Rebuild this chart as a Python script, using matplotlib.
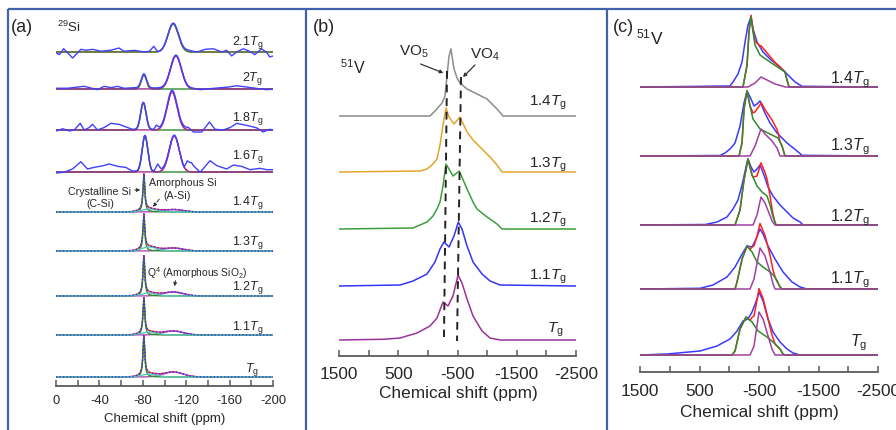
import numpy as np
import matplotlib
matplotlib.use("Agg")
import matplotlib.pyplot as plt
from matplotlib.transforms import Affine2D

plt.rcParams['font.family'] = ['Liberation Sans', 'DejaVu Sans']
plt.rcParams['mathtext.fontset'] = 'custom'
plt.rcParams['mathtext.rm'] = 'Liberation Sans'
plt.rcParams['mathtext.it'] = 'Liberation Sans:italic'
plt.rcParams['mathtext.bf'] = 'Liberation Sans:bold'
plt.rcParams['axes.unicode_minus'] = False

# ---------------- (a) 29Si spectra ----------------
si_labels = ['2.1', '2', '1.8', '1.6', '1.4', '1.3', '1.2', '1.1', '']

# upper four traces: C-Si (green) + A-Si (purple) gaussian fits, ppm / ppm / px
si_up_c1 = [-108, -81, -80.5, -82]
si_up_w1 = [4.8, 2.4, 2.5, 2.6]
si_up_h1 = [28, 14, 27, 36]
si_up_c2 = [-110, -110.5, -107, -109]
si_up_w2 = [4.5, 5.0, 4.6, 4.6]
si_up_h2 = [0, 33, 38, 36]

# baseline wiggles of the measured (blue) traces
wig_ppm_21 = [0, -3.1, -7.0, -10.7, -15.3, -19.2, -22.9, -27.5, -33.6, -41.2, -50.4, -58.0,
              -62.6, -71.8, -80.9, -86.1, -90.1, -93.7, -122.1, -129.8, -137.4, -145.0,
              -152.7, -157.3, -161.8, -166.4, -172.5, -178.6, -183.2, -189.3, -193.9, -196.9, -200]
wig_off_21 = [-0.7, -2.7, 3.3, -0.7, -6, -1.7, 2.7, 1.7, 2.7, 0.7, 1.7, 4, 0.7, 1.7, 0, 0.7,
              5.7, 0, 1.7, 0, 2.7, 3.3, 0, 1.7, -4, 0, 3.3, 0.7, -2.7, 3.3, 0, -5, -4]
wig_ppm_2 = [0, -10.7, -19.8, -26.0, -32.1, -38.2, -44.3, -50.4, -56.5, -62.6, -70.2, -126.7,
             -132.8, -145.0, -157.3, -166.4, -175.6, -184.7, -193.9, -200]
wig_off_2 = [0.7, 0.7, 2, 2.7, 1, -0.7, 2.7, 1.3, 2.7, 0.7, 1.3, 0.7, -0.7, 0.7, 1.7, 3.3, 2,
             0.7, -0.7, 0]
wig_ppm_18 = [0, -6.1, -12.2, -16.8, -22.3, -26.0, -30.5, -33.6, -38.2, -44.3, -50.4, -58.0,
              -64.1, -70.2, -90.1, -92.5, -95.6, -122.1, -126.7, -134.4, -141.4, -146.6,
              -154.2, -160.3, -166.4, -175.6, -184.7, -190.8, -196.9, -200]
wig_off_18 = [-1, 1.3, -1, 0, 6.7, 0, 2.3, 5.7, 0, 2.3, 6.7, 5.7, 3.3, 0.7, 0.7, 4.7, 1.3, 2.3,
              -2, -2, 8, 0.7, 0, 2.3, 6.7, 4.7, 2.3, -2, 0.7, 0]
wig_ppm_16 = [0, -7.6, -15.3, -22.9, -29.0, -35.1, -41.2, -48.9, -56.5, -64.1, -70.2, -90.1,
              -93.7, -97, -118, -121, -125, -126.7, -132.8, -142.0, -148.1, -157.3, -163.4,
              -171.0, -178.6, -187.8, -193.9, -200]
wig_off_16 = [-1, -0.3, 3, 10.3, 3, 4.7, 5.7, 8, 5.7, 4.7, 1, 0.3, 8, 2, 0, 10, 9, 6.3, -0.3,
              11.3, 6.3, 3, 7, 5.7, 2.3, 3.7, 2.3, 2.3]
si_wig_ppm = [wig_ppm_21, wig_ppm_2, wig_ppm_18, wig_ppm_16]
si_wig_off = [wig_off_21, wig_off_2, wig_off_18, wig_off_16]

# lower five traces: sharp C-Si, broad A-Si, Q4 (amorphous SiO2)
si_lo_csi_h = [36, 34, 38, 35, 39]
si_lo_asi_h = [3, 4, 3, 3, 3]
si_lo_q4_h = [2.5, 3, 4, 4, 5]
csi_pos, csi_hw = -81, 1.0
asi_pos, asi_w = -86, 7
q4_pos, q4_w = -108, 9

# ---------------- (b) 51V spectra (ppm, px) ----------------
vb_labels = ['1.4', '1.3', '1.2', '1.1', '']
vb_colors = ['#8c8c8c', '#e2a52a', '#3c9e3c', '#3535f5', '#993399']
vb_ppm = [
    [1500, -36, -120, -239, -289, -323, -357, -390, -407, -441, -492, -542, -661, -829, -998, -1167, -1268, -2500],
    [1500, 133, 15, -70, -154, -205, -255, -306, -357, -441, -542, -661, -762, -914, -1049, -1167, -1251, -2500],
    [1500, 251, 15, -87, -154, -205, -255, -306, -424, -531, -661, -762, -829, -998, -1167, -1251, -2500],
    [1500, 470, 251, 15, -120, -205, -272, -357, -441, -514, -576, -661, -762, -914, -1049, -1218, -2500],
    [1500, 757, 470, 183, -36, -154, -255, -340, -424, -509, -576, -661, -762, -914, -1049, -1218, -2500],
]
vb_h = [
    [0, 0, 5, 13, 20, 40, 60, 67, 60, 47, 38, 33, 27, 22, 17, 7, 0, 0],
    [0, 1, 3, 7, 13, 27, 47, 64, 55, 48, 55, 40, 32, 23, 15, 7, 0, 0],
    [0, 1, 7, 13, 20, 27, 43, 65, 53, 58, 40, 27, 20, 12, 5, 0, 0],
    [0, 1, 5, 12, 24, 37, 44, 39, 50, 64, 57, 40, 24, 12, 5, 1, 0],
    [0, 0.7, 2, 7, 14, 22, 38, 34, 44, 65, 57, 41, 24, 9, 2, 0, 0],
]
vo5_line = ([-323, -272], [285, 19])
vo4_line = ([-559, -492], [279, 15])

# ---------------- (c) 51V fits (ppm, px) ----------------
vc_labels = ['1.4', '1.3', '1.2', '1.1', '']
vc_blue_ppm = [
    [1500, -13, -63, -147, -215, -265, -315, -366, -399, -467, -568, -685, -853, -971, -1106, -1223, -2500],
    [1500, 155, 71, -13, -97, -181, -248, -299, -366, -416, -467, -517, -584, -685, -803, -971, -1139, -1223, -2500],
    [1500, 400, 206, 38, -63, -147, -215, -282, -315, -366, -416, -467, -517, -584, -652, -736, -853, -971, -1072, -1190, -1240, -2500],
    [1500, 491, 273, 38, -97, -215, -299, -383, -450, -517, -568, -652, -769, -904, -1055, -1190, -1307, -2500],
    [1500, 1046, 491, 206, -13, -131, -231, -315, -383, -467, -500, -568, -652, -736, -853, -971, -1072, -1190, -2500],
]
vc_blue_h = [
    [0, 1, 5, 13, 25, 45, 62, 70, 58, 45, 35, 28, 20, 13, 5, 0.7, 0],
    [0, 0.5, 3, 7, 13, 30, 53, 65, 57, 50, 52, 55, 45, 33, 23, 13, 5, 0.7, 0],
    [0, 0.5, 3, 8, 16, 25, 40, 58, 66, 58, 53, 56, 60, 50, 38, 29, 20, 13, 7, 3, 0, 0],
    [0, 0.7, 4, 12, 22, 35, 43, 42, 50, 60, 55, 43, 30, 17, 7, 2, 0, 0],
    [0, 1, 4, 9, 16, 24, 34, 36, 43, 56, 63, 54, 36, 23, 13, 6, 2, 0, 0],
]
vc_green_ppm = [
    [1500, -231, -299, -332, -366, -399, -433, -517, -685, -887, -937, -971, -1005, -2500],
    [1500, -164, -215, -248, -299, -349, -399, -517, -685, -820, -887, -937, -2500],
    [1500, -97, -181, -248, -315, -383, -467, -551, -635, -685, -736, -786, -2500],
    [1500, -97, -131, -215, -299, -383, -467, -568, -685, -769, -853, -887, -2500],
    [1500, -47, -97, -181, -282, -383, -484, -635, -736, -853, -904, -937, -2500],
]
vc_green_h = [
    [0, 0, 22, 55, 70, 55, 42, 32, 25, 17, 15, 7, 0, 0],
    [0, 0, 13, 47, 65, 50, 37, 27, 22, 18, 10, 0, 0],
    [0, 0, 15, 45, 66, 50, 39, 33, 29, 20, 8, 0, 0],
    [0, 0, 7, 30, 43, 37, 27, 22, 17, 12, 2, 0, 0],
    [0, 0, 4, 26, 38, 33, 24, 18, 13, 6, 1, 0, 0],
]
vc_purple_ppm = [
    [1500, -315, -433, -534, -635, -769, -887, -937, -2500],
    [1500, -349, -433, -534, -601, -719, -803, -853, -2500],
    [1500, -399, -467, -534, -601, -668, -719, -769, -2500],
    [1500, -349, -416, -517, -601, -685, -736, -769, -2500],
    [1500, -349, -416, -500, -568, -652, -719, -769, -2500],
]
vc_purple_h = [
    [0, 0, 4, 10, 7, 3, 1, 0, 0],
    [0, 0, 10, 27, 22, 15, 8, 0, 0],
    [0, 0, 10, 28, 22, 12, 4, 0, 0],
    [0, 0, 10, 41, 33, 17, 5, 0, 0],
    [0, 0, 9, 43, 36, 19, 6, 0, 0],
]

# ---------------- layout (pixels of the 896x431 image) ----------------
W, H = 896, 431
fig = plt.figure(figsize=(W / 100, H / 100), dpi=100)
pix = Affine2D().scale(1 / W, -1 / H).translate(0, 1) + fig.transFigure
TXT = '#262626'
AX = '#5a5a5a'
FRAME = '#3f62aa'

a_base = [334, 297, 256, 214, 174, 135, 90, 51, 9]
b_base = [240, 184, 127, 70, 16]
c_base = [285, 216, 147, 83, 17]


def px_axes(x0, x1, y_top, y_axis):
    ax = fig.add_axes([x0 / W, 1 - y_axis / H, (x1 - x0) / W, (y_axis - y_top) / H])
    ax.set_ylim(0, y_axis - y_top)
    ax.patch.set_visible(False)
    for s in ['left', 'right', 'top']:
        ax.spines[s].set_visible(False)
    ax.spines['bottom'].set_color(AX)
    ax.spines['bottom'].set_linewidth(1.3)
    ax.set_yticks([])
    ax.tick_params(axis='x', which='both', direction='in', length=4, width=1.1,
                   color=AX, labelcolor=TXT)
    return ax


def gauss(x, c, w, h):
    return h * np.exp(-0.5 * ((x - c) / w) ** 2)


def lorentz(x, c, hw, h):
    return h / (1 + ((x - c) / hw) ** 2)


def tg(lab):
    return lab + r'$T_\mathrm{g}$'


# ----- panel (a) -----
ax_a = px_axes(56, 273, 12, 387)
ax_a.set_xlim(0, -200)
ax_a.set_xticks(np.arange(0, -201, -40))
ax_a.set_xticks(np.arange(-20, -200, -40), minor=True)
ax_a.tick_params(axis='x', labelsize=9.3, pad=5.5)
x = np.linspace(0, -200, 1601)
for i in range(4):
    g1 = gauss(x, si_up_c1[i], si_up_w1[i], si_up_h1[i])
    g2 = gauss(x, si_up_c2[i], si_up_w2[i], si_up_h2[i])
    tot = g1 + g2
    wig = np.interp(x, si_wig_ppm[i][::-1], si_wig_off[i][::-1])
    b0 = a_base[i]
    ax_a.plot(x, b0 + tot, color='#ff2a2a', lw=1.0)
    ax_a.plot(x, b0 + g1, color='#2e8b2e', lw=1.0)
    if si_up_h2[i] > 0:
        ax_a.plot(x, b0 + g2, color='#a0309a', lw=1.0)
    ax_a.plot(x, b0 + tot + wig, color='#4040ff', lw=1.0)
for j in range(5):
    b0 = a_base[4 + j]
    c1 = lorentz(x, csi_pos, csi_hw, si_lo_csi_h[j])
    c2 = gauss(x, asi_pos, asi_w, si_lo_asi_h[j])
    c3 = gauss(x, q4_pos, q4_w, si_lo_q4_h[j])
    tot = c1 + c2 + c3
    ax_a.plot(x, b0 + tot, color='#ff2a2a', lw=1.0)
    ax_a.plot(x, b0 + c3, color='#b04cb0', lw=1.0)
    ax_a.plot(x, b0 + c1, color='#2e8b2e', lw=1.0)
    ax_a.plot(x, b0 + c2, color='#5cc6b8', lw=1.0)
    ax_a.plot(x, b0 + tot, color='#3030ff', lw=1.0, ls=(0, (1, 1.5)))

a_lab_y = [43, 79, 119, 157, 203, 243, 287, 327, 370]
for lab, yy in zip(si_labels, a_lab_y):
    fig.text(263 if lab else 259, yy, tg(lab), transform=pix, ha='right', va='center',
             fontsize=9, color=TXT)

fig.text(165, 419, 'Chemical shift (ppm)', transform=pix, ha='center', va='center',
         fontsize=9.5, color=TXT)
fig.text(11, 28, '(a)', transform=pix, ha='left', va='center', fontsize=13, color=TXT)
fig.text(57, 27, r'$^{29}$Si', transform=pix, ha='left', va='center', fontsize=9.5, color=TXT)
fig.text(100, 192, 'Crystalline Si', transform=pix, ha='center', va='center', fontsize=7.7, color=TXT)
fig.text(100, 204, '(C-Si)', transform=pix, ha='center', va='center', fontsize=7.7, color=TXT)
fig.text(183, 183, 'Amorphous Si', transform=pix, ha='center', va='center', fontsize=7.7, color=TXT)
fig.text(177, 196, '(A-Si)', transform=pix, ha='center', va='center', fontsize=7.7, color=TXT)
fig.text(197, 273, r'Q$^4$ (Amorphous SiO$_2$)', transform=pix, ha='center', va='center',
         fontsize=7.4, color=TXT)
arr = dict(arrowstyle='-|>', color='#333333', lw=0.7, mutation_scale=5)
ax_a.annotate('', xy=(143, 191), xytext=(132, 191), xycoords=pix, textcoords=pix,
              arrowprops=arr, annotation_clip=False)
ax_a.annotate('', xy=(151, 210), xytext=(161, 198), xycoords=pix, textcoords=pix,
              arrowprops=dict(arr, ls='--'), annotation_clip=False)
ax_a.annotate('', xy=(174, 290), xytext=(176, 279), xycoords=pix, textcoords=pix,
              arrowprops=arr, annotation_clip=False)

# ----- panel (b) -----
ax_b = px_axes(339, 576, 12, 357)
ax_b.set_xlim(1500, -2500)
ax_b.set_xticks([1500, 500, -500, -1500, -2500])
ax_b.set_xticks([1000, 0, -1000, -2000], minor=True)
ax_b.tick_params(axis='x', labelsize=12.4, pad=7)
for i in range(5):
    ax_b.plot(vb_ppm[i], np.array(vb_h[i]) + b_base[i], color=vb_colors[i], lw=1.1)
ax_b.plot(*vo5_line, color='#222222', lw=1.4, ls=(0, (4, 3)))
ax_b.plot(*vo4_line, color='#222222', lw=1.4, ls=(0, (4, 3)))

b_lab_y = [103, 165, 220, 277, 330]
for lab, yy in zip(vb_labels, b_lab_y):
    fig.text(567 if lab else 564, yy, tg(lab), transform=pix, ha='right', va='center',
             fontsize=11, color=TXT)
fig.text(458, 394, 'Chemical shift (ppm)', transform=pix, ha='center', va='center',
         fontsize=12.4, color=TXT)
fig.text(313, 27, '(b)', transform=pix, ha='left', va='center', fontsize=13, color=TXT)
fig.text(340, 68, r'$^{51}$V', transform=pix, ha='left', va='center', fontsize=11.5, color=TXT)
fig.text(414, 52, r'VO$_5$', transform=pix, ha='center', va='center', fontsize=11, color=TXT)
fig.text(485, 55, r'VO$_4$', transform=pix, ha='center', va='center', fontsize=11, color=TXT)
ax_b.annotate('', xy=(446, 75), xytext=(418, 64), xycoords=pix, textcoords=pix,
              arrowprops=dict(arr, lw=0.9), annotation_clip=False)
ax_b.annotate('', xy=(461, 80), xytext=(477, 64), xycoords=pix, textcoords=pix,
              arrowprops=dict(arr, lw=0.9), annotation_clip=False)

# ----- panel (c) -----
ax_c = px_axes(640, 878, 12, 373)
ax_c.set_xlim(1500, -2500)
ax_c.set_xticks([1500, 500, -500, -1500, -2500])
ax_c.set_xticks([1000, 0, -1000, -2000], minor=True)
ax_c.tick_params(axis='x', labelsize=12.4, pad=8)
for i in range(5):
    grid = np.union1d(vc_green_ppm[i], vc_purple_ppm[i])
    gr = np.interp(grid, vc_green_ppm[i][::-1], vc_green_h[i][::-1])
    pu = np.interp(grid, vc_purple_ppm[i][::-1], vc_purple_h[i][::-1])
    b0 = c_base[i]
    ax_c.plot(vc_blue_ppm[i], np.array(vc_blue_h[i]) + b0, color='#3a3aff', lw=1.1)
    ax_c.plot(grid, gr + pu + b0, color='#ff2020', lw=1.1)
    ax_c.plot(vc_green_ppm[i], np.array(vc_green_h[i]) + b0, color='#2e8b2e', lw=1.1)
    ax_c.plot(vc_purple_ppm[i], np.array(vc_purple_h[i]) + b0, color='#a040a0', lw=1.1)

c_lab_y = [80, 147, 218, 280, 343]
for lab, yy in zip(vc_labels, c_lab_y):
    fig.text(870 if lab else 867, yy, tg(lab), transform=pix, ha='right', va='center',
             fontsize=11.5, color=TXT)
fig.text(759, 413, 'Chemical shift (ppm)', transform=pix, ha='center', va='center',
         fontsize=12.4, color=TXT)
fig.text(613, 27, '(c)', transform=pix, ha='left', va='center', fontsize=13, color=TXT)
fig.text(636, 37, r'$^{51}$V', transform=pix, ha='left', va='center', fontsize=12.5, color=TXT)

# ----- blue panel frame -----
frame_kw = dict(transform=pix, color=FRAME, lw=1.6, solid_capstyle='butt')
fig.add_artist(plt.Line2D([8, W], [10, 10], **frame_kw))
for xv in [8, 306, 607]:
    fig.add_artist(plt.Line2D([xv, xv], [10, H], **frame_kw))

fig.savefig('out.png', dpi=100)
